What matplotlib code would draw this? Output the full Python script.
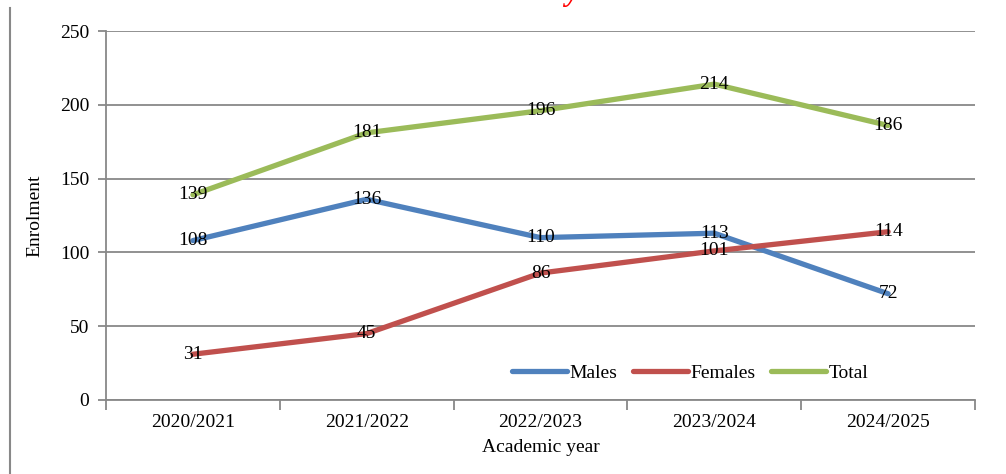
import matplotlib
matplotlib.use("Agg")
import matplotlib.pyplot as plt
from matplotlib.lines import Line2D

years = ["2020/2021", "2021/2022", "2022/2023", "2023/2024", "2024/2025"]
males = [108, 136, 110, 113, 72]
females = [31, 45, 86, 101, 114]
total = [139, 181, 196, 214, 186]
series_names = ["Males", "Females", "Total"]
colors = ["#4F81BD", "#C0504D", "#9BBB59"]

plt.rcParams['font.family'] = ['Liberation Serif', 'DejaVu Serif']

fig = plt.figure(figsize=(10.06, 4.74), dpi=100)
ax = fig.add_axes([106/1006, 1-400/474, (975-106)/1006, (400-31)/474])

FS = 14
x = list(range(len(years)))
for vals, name, c in zip([males, females, total], series_names, colors):
    ax.plot(x, vals, color=c, lw=3.8, solid_capstyle='round', label=name, zorder=3)
    for xi, v in zip(x, vals):
        ax.text(xi, v, str(v), ha='center', va='center', fontsize=FS, color='black', zorder=4)

ax.set_xlim(-0.5, 4.5)
ax.set_ylim(0, 250)
ax.set_yticks([0, 50, 100, 150, 200, 250])
ax.set_xticks(x)
ax.set_xticklabels(years, fontsize=FS)
ax.tick_params(axis='x', length=0, pad=10)
ax.set_xticks([-0.5, 0.5, 1.5, 2.5, 3.5, 4.5], minor=True)
ax.tick_params(axis='x', which='minor', length=7, width=1.3, color='#888888')
ax.tick_params(axis='y', length=6, width=1.3, color='#888888', labelsize=FS, pad=6)
ax.grid(axis='y', color='#888888', lw=1.3)
ax.set_axisbelow(True)
for s in ['top', 'right']:
    ax.spines[s].set_visible(False)
for s in ['left', 'bottom']:
    ax.spines[s].set_color('#888888')
    ax.spines[s].set_linewidth(1.3)

ax.set_ylabel("Enrolment", fontsize=FS, labelpad=12)
ax.set_xlabel("Academic year", fontsize=FS, labelpad=6)

handles = [Line2D([0], [0], color=c, lw=3.8, solid_capstyle='round') for c in colors]
ax.legend(handles, series_names, loc='center right', bbox_to_anchor=((878-106)/869, (400-373)/369),
          ncol=3, frameon=False, fontsize=FS, handlelength=2.8, handletextpad=0.15,
          columnspacing=0.8, borderpad=0)

# left frame line (cropped border)
fig.add_artist(Line2D([10/1006, 10/1006], [0, 1-8/474], color='#888888', lw=1.5))
# cropped red title descender
fig.text(572/1006, 1.0, "y", color='red', fontsize=22, fontweight='bold', style='italic',
         ha='center', va='baseline', transform=fig.transFigure)

fig.savefig("out.png", dpi=100)
